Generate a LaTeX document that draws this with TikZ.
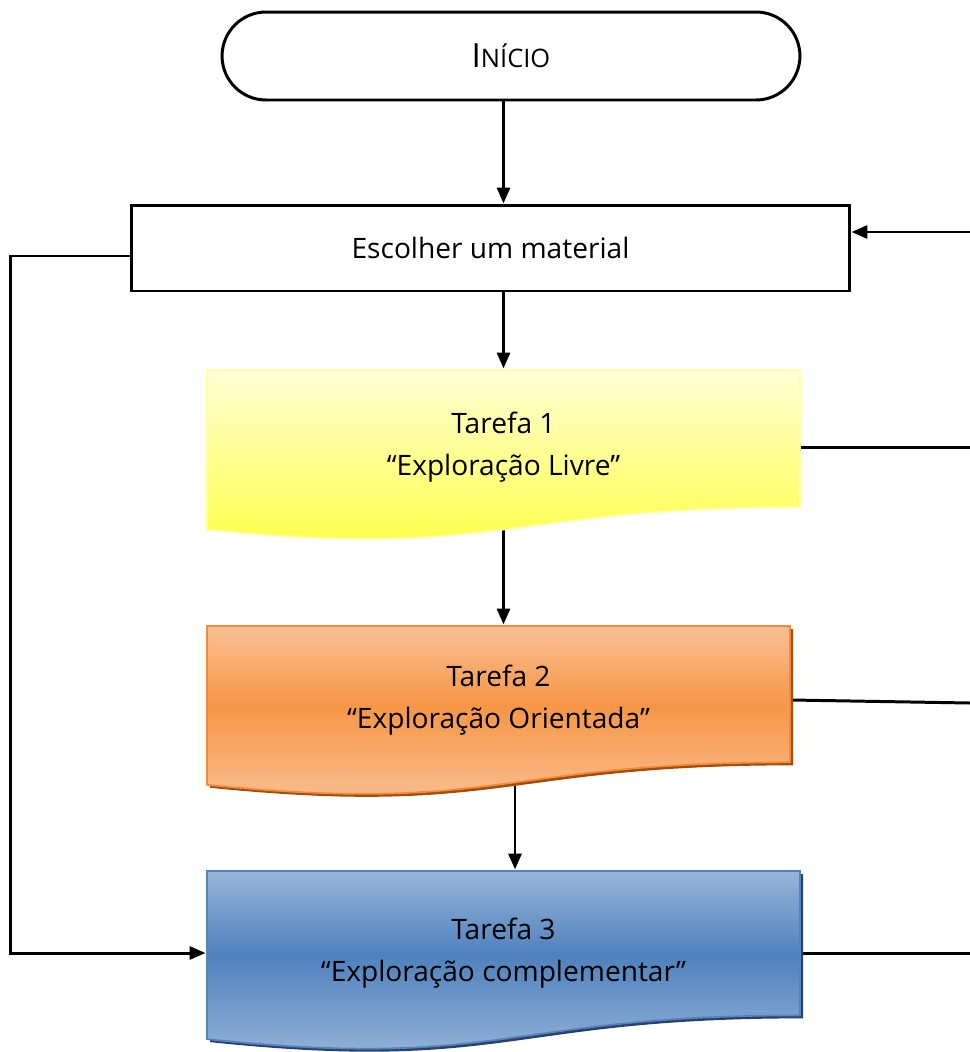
\documentclass[tikz,border=0pt]{standalone}
\usepackage{fontspec}
\setmainfont{Open Sans}
\usetikzlibrary{arrows.meta,calc}
\definecolor{yelTop}{HTML}{FFFFD6}
\definecolor{yelBot}{HTML}{FFFF40}
\definecolor{yelLine}{HTML}{FFFFA8}
\definecolor{orTop}{HTML}{F9C095}
\definecolor{orMid}{HTML}{F79646}
\definecolor{orLine}{HTML}{F48B3A}
\definecolor{orShade}{HTML}{A24D0B}
\definecolor{blTop}{HTML}{98B5D9}
\definecolor{blMid}{HTML}{4F81BD}
\definecolor{blLine}{HTML}{5583BE}
\definecolor{blShade}{HTML}{2B416B}
\pgfdeclareverticalshading{orShading}{100bp}{color(0bp)=(orTop); color(27bp)=(orTop); color(54bp)=(orMid); color(75bp)=(orTop); color(100bp)=(orTop)}
\pgfdeclareverticalshading{blShading}{100bp}{color(0bp)=(blTop); color(27bp)=(blTop); color(54bp)=(blMid); color(75bp)=(blTop); color(100bp)=(blTop)}
\pgfdeclarelayer{bg}
\pgfsetlayers{bg,main}
% wavy document outline: left, top, width, height
\newcommand{\docpath}[4]{(#1,#2) -- ({#1+#3},#2) -- ({#1+#3},{#2+0.802*#4})
  .. controls ({#1+0.5*#3},{#2+0.802*#4}) and ({#1+0.5*#3},{#2+1.107*#4}) .. (#1,{#2+0.934*#4}) -- cycle}
\begin{document}
\begin{tikzpicture}[
    x=0.02cm, y=-0.02cm,
    line width=1.7pt,
    font=\fontsize{16}{24}\selectfont,
    conn/.style={line width=1.7pt},
    arr/.style={conn, -{Triangle[length=0.32cm,width=0.26cm]}},
    box/.style={draw, rectangle, minimum height=1.72cm},
    task/.style={align=center, minimum width=11.86cm}
  ]
  \useasboundingbox (0,0) rectangle (970,1052);

  % task shapes
  \shade[top color=yelTop, bottom color=yelBot, draw=yelLine, line width=1pt] \docpath{207}{370}{593}{171};
  \fill[orShade] \docpath{210}{629}{583}{170};
  \shade[shading=orShading, draw=orLine, line width=1pt] \docpath{207}{626}{583}{170};
  \fill[blShade] \docpath{210}{874}{593}{180};
  \shade[shading=blShading, draw=blLine, line width=1pt] \docpath{207}{871}{593}{180};

  \node[draw, rounded corners=0.88cm, minimum width=11.56cm, minimum height=1.76cm] (Start) at (511,56)
    {{\fontsize{19}{22}\selectfont I}{\fontsize{14.5}{17}\selectfont NÍCIO}};
  \node[box, minimum width=14.38cm] (Esc) at (490.5,248) {Escolher um material};
  \node[task, minimum height=3.08cm] (T1) at (503.5,447) {Tarefa 1\\“Exploração Livre”};
  \node[task, minimum height=2.96cm, minimum width=11.66cm] (T2) at (498.5,700) {Tarefa 2\\“Exploração Orientada”};
  \node[task, minimum height=3.28cm] (T3) at (503.5,953) {Tarefa 3\\“Exploração complementar”};

  \coordinate (R0) at (970,232);
  \coordinate (R1) at (970,447);
  \coordinate (R2) at (970,703);
  \coordinate (R3) at (970,953);

  \begin{pgfonlayer}{bg}
    \draw[arr] (Start.south -| T1.north) -- (Esc.north -| T1.north);
    \draw[arr] (Esc.south -| T1.north) -- (T1.north);
    \draw[arr] (T1.south) -- (T1.south |- T2.north);
    \draw[arr] ([xshift=0.33cm]T2.south) -- ([xshift=0.33cm]T2.south |- T3.north);
    \draw[conn] (T1.east) -- (R1);
    \draw[conn] (T2.east) -- (R2);
    \draw[conn] (T3.east) -- (R3);
    \draw[arr] (R0) -- (R0 -| Esc.east);
    \draw[arr] ([yshift=-0.16cm]Esc.west) -- ++(-119,0) |- (T3.west);
  \end{pgfonlayer}
\end{tikzpicture}
\end{document}
